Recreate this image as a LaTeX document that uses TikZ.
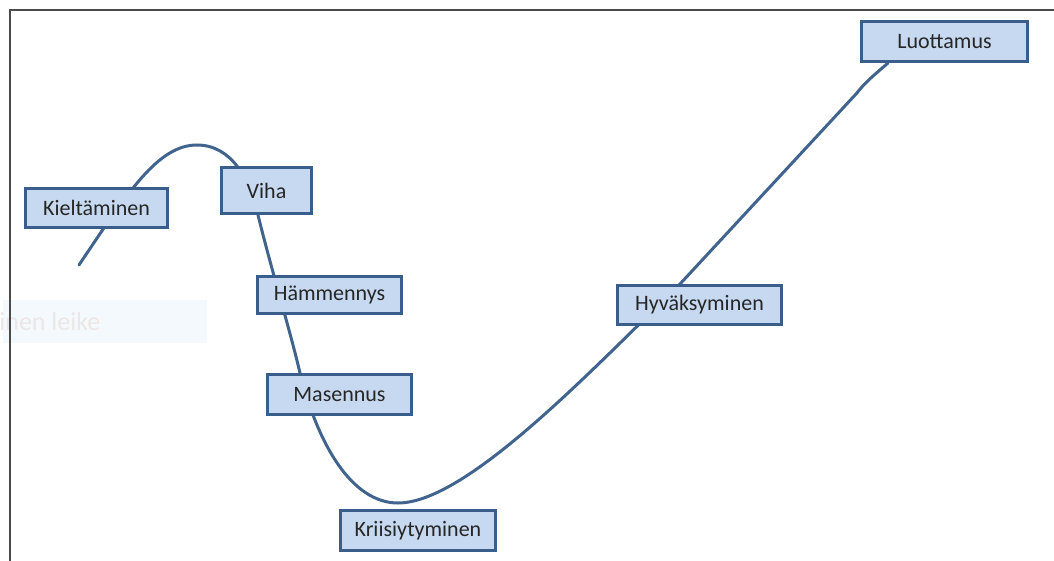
\documentclass[tikz,border=0pt]{standalone}
\usepackage{fontspec}
\setmainfont{Carlito}
\usetikzlibrary{backgrounds}

\definecolor{boxfill}{HTML}{C6D9F0}
\definecolor{boxline}{HTML}{3A5E8C}
\definecolor{curveline}{HTML}{41648F}
\definecolor{framegray}{HTML}{4A4A4A}
\definecolor{snipfill}{HTML}{F4F9FD}
\definecolor{sniptext}{HTML}{ECE6E6}

\begin{document}
\begin{tikzpicture}[
    x=0.5pt, y=-0.5pt,
    stage/.style={rectangle, draw=boxline, line width=1.6pt, fill=boxfill, inner sep=0pt, font=\fontsize{11}{13}\selectfont, text=black!85},
    curve/.style={draw=curveline, line width=1.5pt, line cap=round}
]
    \useasboundingbox (0,0) rectangle (1054,561);

    % stages of the curve
    \node[stage, minimum width=71pt, minimum height=19.5pt] (kiel) at (96.5,208) {Kieltäminen};
    \node[stage, minimum width=45pt, minimum height=23pt] (viha) at (266.5,190.5) {Viha};
    \node[stage, minimum width=72pt, minimum height=18.5pt] (hamm) at (329.5,295) {Hämmennys};
    \node[stage, minimum width=72pt, minimum height=20pt] (mas) at (339.5,394.5) {Masennus};
    \node[stage, minimum width=77.5pt, minimum height=20pt] (kriis) at (418,530.5) {Kriisiytyminen};
    \node[stage, minimum width=82pt, minimum height=19.5pt] (hyv) at (699.5,305) {Hyväksyminen};
    \node[stage, minimum width=83pt, minimum height=20pt] (luott) at (944.5,41.5) {Luottamus};

    \begin{scope}[on background layer]
        \node[fill=snipfill, minimum width=102pt, minimum height=21.5pt, inner sep=0pt] (snip) at (105,321.5) {};
        \node[anchor=west, text=sniptext, font=\fontsize{13}{14}\selectfont, inner sep=0pt] (sniplabel) at (-1,322) {inen leike};
        \draw[framegray, line width=1.3pt] (10,561) -- (10,10) -- (1054,10);

        \coordinate (start) at (79,265);
        \draw[curve] (start) .. controls (128,192) and (158,145) .. (197,145)
            .. controls (232,145) and (250,180) .. (258,215)
            .. controls (272,272) and (290,330) .. (300,373)
            .. controls (318,445) and (352,503) .. (398,503)
            .. controls (465,503) and (585,377) .. (680,284)
            -- (856,94) .. controls (866,82) .. (888,63);
    \end{scope}
\end{tikzpicture}
\end{document}
